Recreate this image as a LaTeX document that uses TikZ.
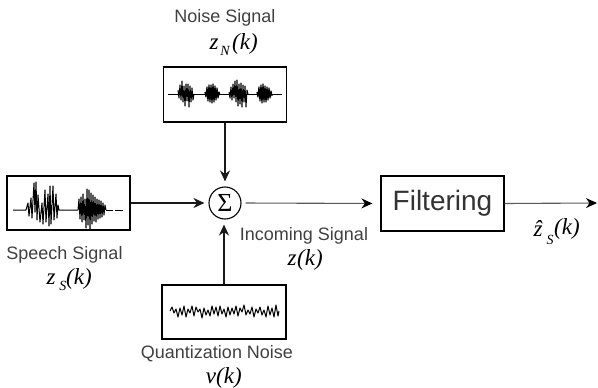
\documentclass[tikz,border=0pt]{standalone}
\usepackage{fontspec}
\setmainfont{Liberation Sans}
\newfontfamily\mathserif{Liberation Serif}
\usetikzlibrary{arrows.meta}
\tikzset{
  sigbox/.style={draw=black,line width=1.2pt,rectangle,inner sep=0pt},
  conn/.style={draw=black!90,line width=1.5pt,-{Stealth[length=11pt,width=10pt]}},
  thinconn/.style={draw=black!65,line width=1.1pt,-{Stealth[length=11pt,width=10pt,color=black]}},
  wave/.style={draw=black,line width=1pt,line join=round},
  lab/.style={text=black!75,font=\fontsize{18}{20}\selectfont,inner sep=0pt,anchor=center},
  sym/.style={text=black,font=\mathserif\itshape\fontsize{23}{24}\selectfont,inner sep=0pt,anchor=center},
  sub/.style={text=black,font=\mathserif\itshape\fontsize{14}{14}\selectfont,inner sep=0pt,anchor=center}
}
\begin{document}
\begin{tikzpicture}[x=1pt,y=-1pt]
\useasboundingbox (0,0) rectangle (598,388);
% boxes
\node[sigbox,minimum width=123pt,minimum height=54pt] (speech) at (68.5,203) {};
\node[sigbox,minimum width=123pt,minimum height=55pt] (noise) at (225,94.5) {};
\node[sigbox,minimum width=124pt,minimum height=54pt] (quant) at (224,312) {};
\node[sigbox,minimum width=123pt,minimum height=55pt,font=\fontsize{28}{30}\selectfont,text=black!80] (filter) at (442.5,203.5) {Filtering};
\node[circle,draw=black,line width=1.1pt,minimum size=32pt,inner sep=0pt,font=\mathserif\fontsize{26}{26}\selectfont] (sum) at (225,203) {Σ};
\coordinate (out) at (597,203);
% connectors
\draw[conn,shorten >=4pt] (speech.east) -- (sum.west);
\draw[conn,shorten >=5pt] (noise.south) -- (noise.south |- sum.north);
\draw[conn,shorten >=5pt] (quant.north) -- (quant.north |- sum.south);
\draw[thinconn,shorten <=4pt,shorten >=8pt] (sum.east) -- (filter.west);
\draw[thinconn] (filter.east) -- (out);
% speech waveform
\draw[wave] (13,210) -- (26,210) -- (28,203) -- (29,216) -- (31,198) -- (32,218) -- (34,183) -- (35,212) -- (36,182) -- (37,220) -- (38,195) -- (40,222) -- (42,203) -- (43,224) -- (45,190) -- (46,222) -- (48,194) -- (49,226) -- (50,186) -- (51,224) -- (53,186) -- (54,220) -- (56,194) -- (57,218) -- (58,205) -- (59,210) -- (78,210);
\draw[wave] (78,210) -- (79,199) -- (80,219) -- (81,197) -- (82,222) -- (83,194) -- (84,220) -- (85,199) -- (86,228) -- (87,189) -- (88,225) -- (89,190) -- (90,229) -- (91,193) -- (92,224) -- (93,195) -- (94,221) -- (95,197) -- (96,222) -- (97,199) -- (98,219) -- (99,200) -- (100,218) -- (101,201) -- (102,217) -- (103,203) -- (104,215) -- (105,205) -- (106,210);
\draw[wave] (106,210) -- (113,210) (115,210) -- (123,210);
% noise waveform
\draw[wave] (168,94) -- (282,94);
\draw[wave] (178,90) -- (179,98) -- (180,85) -- (181,100) -- (182,81) -- (183,102) -- (184,86) -- (185,106) -- (186,84) -- (187,101) -- (188,84) -- (189,107) -- (190,86) -- (191,102) -- (192,88) -- (193,100) -- (194,94);
\draw[wave,line width=1.2pt] (205,92) -- (206,97) -- (207,87) -- (208,101) -- (209,85) -- (210,102) -- (211,85) -- (212,103) -- (213,84) -- (214,102) -- (215,86) -- (216,100) -- (217,88) -- (218,98) -- (219,92) -- (220,95);
\draw[wave] (229,92) -- (230,98) -- (231,87) -- (232,100) -- (233,84) -- (234,98) -- (235,81) -- (236,102) -- (237,80) -- (238,106) -- (239,84) -- (240,104) -- (241,83) -- (242,107) -- (243,85) -- (244,102) -- (245,86) -- (246,107) -- (247,90) -- (248,94);
\draw[wave,line width=1.2pt] (257,92) -- (258,97) -- (259,87) -- (260,101) -- (261,85) -- (262,103) -- (263,84) -- (264,102) -- (265,86) -- (266,102) -- (267,87) -- (268,100) -- (269,88) -- (270,98) -- (271,91) -- (272,96);
% quantization noise
\draw[wave] (170,311) -- (172,307) -- (174,313) -- (176,309) -- (178,317) -- (180,308) -- (182,315) -- (184,306) -- (186,317) -- (188,309) -- (190,313) -- (192,306) -- (194,316) -- (196,307) -- (198,312) -- (200,309) -- (202,318) -- (204,308) -- (206,315) -- (208,310) -- (210,316) -- (212,306) -- (214,314) -- (216,307) -- (218,316) -- (220,306) -- (222,314) -- (224,309) -- (226,317) -- (228,307) -- (230,315) -- (232,308) -- (234,314) -- (236,306) -- (238,316) -- (240,308) -- (242,312) -- (244,305) -- (246,315) -- (248,310) -- (250,314) -- (252,307) -- (254,317) -- (256,309) -- (258,313) -- (260,307) -- (262,315) -- (264,310) -- (266,317) -- (268,306) -- (270,315) -- (272,308) -- (274,317) -- (276,305) -- (278,316) -- (279,311);
% labels
\node[lab] (lnoise) at (225,18) {Noise Signal};
\node[sym] (znv) at (214,44) {z}; \node[sub] (zns) at (225,51) {N}; \node[sym] (znk) at (245,44) {(k)};
\node[lab] (lspeech) at (64.5,255) {Speech Signal};
\node[sym] (zsv) at (51,279) {z}; \node[sub] (zss) at (63,286) {S}; \node[sym] (zsk) at (79,279) {(k)};
\node[lab] (lincoming) at (304,236) {Incoming Signal};
\node[sym] (zv) at (292,260) {z}; \node[sym] (zk) at (310,260) {(k)};
\node[lab] (lquant) at (217,354) {Quantization Noise};
\node[sym] (vv) at (211,378) {v}; \node[sym] (vk) at (229,378) {(k)};
\node[sym] (hatz) at (538,229) {\^{z}}; \node[sub] (hats) at (550,240) {S}; \node[sym] (hatk) at (567,229) {(k)};
\end{tikzpicture}
\end{document}
